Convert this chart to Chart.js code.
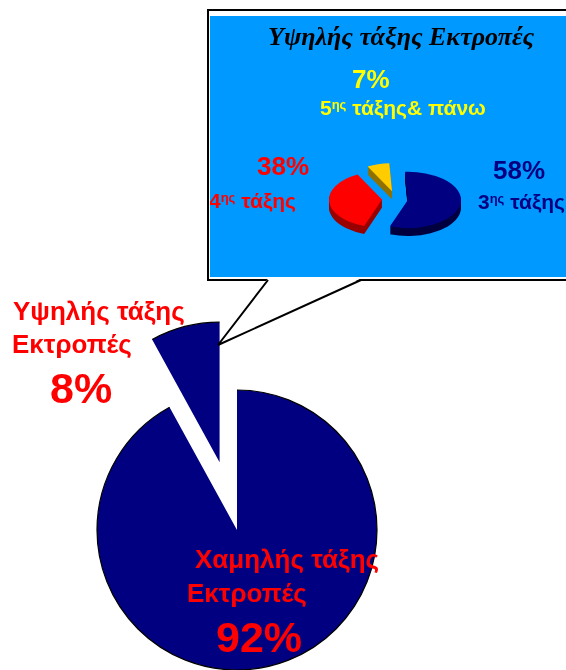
<!DOCTYPE html>
<html>
<head>
<meta charset="utf-8">
<script src="https://cdn.jsdelivr.net/npm/chart.js@4.4.0/dist/chart.umd.min.js"></script>
<style>
  html, body { margin: 0; padding: 0; background: #fff; }
  body { width: 566px; height: 670px; position: relative; overflow: hidden; }
  #mainChart { position: absolute; left: 0; top: 0; }
  #box { position: absolute; left: 207px; top: 9px; border: 2px solid #000; background: #fff;
         padding: 5px 0 2px 1px; }
  #boxInner { width: 420px; height: 261px; background: #0099ff; position: relative; }
  #insetChart { position: absolute; left: 0; top: 0; }
  #callout { position: absolute; left: 0; top: 0; }
</style>
</head>
<body>
<canvas id="mainChart" width="566" height="670"></canvas>
<div id="box"><div id="boxInner"><canvas id="insetChart" width="356" height="261"></canvas></div></div>
<svg id="callout" width="566" height="670">
  <polygon points="268,278.5 361,278.5 218,345" fill="#fff"/>
  <polyline points="268,280 218,345 361,280" fill="none" stroke="#000" stroke-width="2"/>
</svg>
<script>
  // main pie: low vs high class deviations
  var mainLabels = [["Χαμηλής τάξης", "Εκτροπές"], ["Υψηλής τάξης", "Εκτροπές"]];
  var mainValues = [92, 8];
  var mainColors = ["#000080", "#000080"];

  // inset pie: breakdown of the high class deviations
  var insetTitle = "Υψηλής τάξης Εκτροπές";
  var insetOrdinals = ["3", "4", "5"];
  var insetTails = [" τάξης", " τάξης", " τάξης& πάνω"];
  var insetValues = [58, 38, 7];
  var insetColors = ["#000080", "#ff0000", "#ffcc00"];
  var insetSides = ["#000040", "#990000", "#8f7000"];
  var insetText = ["#000080", "#ff0000", "#ffff00"];

  var SANS = '"Liberation Sans", Arial, sans-serif';
  var SERIF = '"Liberation Serif", "Times New Roman", serif';

  // how far each slice is pulled out of the pie
  var mainExplode = [0, 70];
  var insetExplode = [12, 14, 15];

  // label spots (left x, baseline y) for name lines and percentage
  var mainLabelPos = [
    { lines: [[195, 568], [187, 602]], pct: [216, 652] },
    { lines: [[13, 320], [12, 353]], pct: [50, 403] }
  ];
  var insetLabelPos = [
    { pct: [283, 163], name: [268, 193] },
    { pct: [47, 159], name: [-1, 192] },
    { pct: [142, 72], name: [110, 99] }
  ];

  function sliceShift(arc, d) {
    var mid = (arc.startAngle + arc.endAngle) / 2;
    return [Math.cos(mid) * d, Math.sin(mid) * d];
  }

  // draws text pieces one after another, each with its own font and lift
  function drawRuns(ctx, x, y, runs, color) {
    ctx.fillStyle = color;
    ctx.textBaseline = "alphabetic";
    ctx.textAlign = "left";
    runs.forEach(function (r) {
      ctx.font = r[1];
      ctx.fillText(r[0], x, y - (r[2] || 0));
      x += ctx.measureText(r[0]).width;
    });
  }

  var mainPie = {
    id: "mainPie",
    beforeDatasetsDraw: function (chart) {
      var ctx = chart.ctx;
      chart.getDatasetMeta(0).data.forEach(function (arc, i) {
        var s = sliceShift(arc, mainExplode[i]);
        ctx.save();
        ctx.translate(s[0], s[1]);
        arc.draw(ctx);
        // black rim on the curved edge only
        ctx.beginPath();
        ctx.arc(arc.x, arc.y, arc.outerRadius, arc.startAngle, arc.endAngle);
        ctx.lineWidth = 1.2;
        ctx.strokeStyle = "#000";
        ctx.stroke();
        ctx.restore();
      });
      return false;
    },
    afterDraw: function (chart) {
      var ctx = chart.ctx;
      var big = "bold 26px " + SANS;
      var huge = "bold 43px " + SANS;
      mainValues.forEach(function (v, i) {
        var p = mainLabelPos[i];
        mainLabels[i].forEach(function (line, j) {
          drawRuns(ctx, p.lines[j][0], p.lines[j][1], [[line, big]], "#ff0000");
        });
        drawRuns(ctx, p.pct[0], p.pct[1], [[v + "%", huge]], "#ff0000");
      });
    }
  };

  var insetPie = {
    id: "insetPie",
    beforeDatasetsDraw: function (chart) {
      var ctx = chart.ctx;
      var arcs = chart.getDatasetMeta(0).data;
      var tilt = 0.53, depth = 8;
      function place(arc, i, lift) {
        var s = sliceShift(arc, insetExplode[i]);
        ctx.translate(0, lift);
        ctx.translate(arc.x, arc.y);
        ctx.scale(1, tilt);
        ctx.translate(-arc.x, -arc.y);
        ctx.translate(s[0], s[1]);
      }
      // side walls: stacked darker copies below each slice
      for (var h = depth; h >= 1; h--) {
        arcs.forEach(function (arc, i) {
          ctx.save();
          place(arc, i, h);
          ctx.beginPath();
          ctx.moveTo(arc.x, arc.y);
          ctx.arc(arc.x, arc.y, arc.outerRadius, arc.startAngle, arc.endAngle);
          ctx.closePath();
          ctx.fillStyle = insetSides[i];
          ctx.fill();
          ctx.restore();
        });
      }
      // top faces
      arcs.forEach(function (arc, i) {
        ctx.save();
        place(arc, i, 0);
        arc.draw(ctx);
        ctx.restore();
      });
      return false;
    },
    afterDraw: function (chart) {
      var ctx = chart.ctx;
      drawRuns(ctx, 58, 29, [[insetTitle, "italic bold 26px " + SERIF]], "#000");
      var pctFont = "bold 26px " + SANS;
      var nameFont = "bold 21px " + SANS;
      var supFont = "bold 13px " + SANS;
      insetValues.forEach(function (v, i) {
        var p = insetLabelPos[i];
        drawRuns(ctx, p.pct[0], p.pct[1], [[v + "%", pctFont]], insetText[i]);
        drawRuns(ctx, p.name[0], p.name[1],
          [[insetOrdinals[i], nameFont], ["ης", supFont, 6], [insetTails[i], nameFont]], insetText[i]);
      });
    }
  };

  var mainChart = new Chart(document.getElementById("mainChart").getContext("2d"), {
    type: "pie",
    data: {
      labels: mainLabels.map(function (l) { return l.join(" "); }),
      datasets: [{ data: mainValues, backgroundColor: mainColors, borderWidth: 0 }]
    },
    options: {
      responsive: false,
      animation: false,
      radius: 140,
      rotation: 0,
      layout: { padding: { left: 0, right: 92, top: 390, bottom: 0 } },
      plugins: { legend: { display: false }, tooltip: { enabled: false } }
    },
    plugins: [mainPie]
  });

  var insetChart = new Chart(document.getElementById("insetChart").getContext("2d"), {
    type: "pie",
    data: {
      labels: insetOrdinals.map(function (o, i) { return o + "ης" + insetTails[i]; }),
      datasets: [{ data: insetValues, backgroundColor: insetColors, borderWidth: 0 }]
    },
    options: {
      responsive: false,
      animation: false,
      radius: 53,
      rotation: -3,
      layout: { padding: { left: 16, right: 0, top: 105, bottom: 0 } },
      plugins: { legend: { display: false }, tooltip: { enabled: false } }
    },
    plugins: [insetPie]
  });
</script>
</body>
</html>
